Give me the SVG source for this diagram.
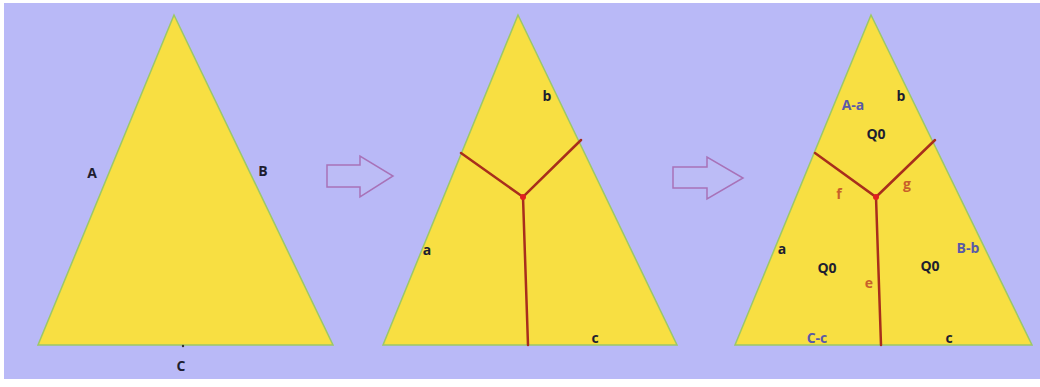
<svg xmlns="http://www.w3.org/2000/svg" width="1040" height="387" viewBox="0 0 1040 387">
<style>
.tri{fill:#f8df42;stroke:#9cc868;stroke-width:1.5}
.red{stroke:#a82e1c;stroke-width:2.5;fill:none;stroke-linecap:round}
.arr{fill:#bcbcf6;stroke:#a872b8;stroke-width:1.5}
text{font-family:"Open Sans","Liberation Sans",sans-serif;font-weight:bold;font-size:14px;text-anchor:middle;dominant-baseline:central}
.k{fill:#1e1e30}
.bl{fill:#5a5aa8}
.or{fill:#c8602a}
</style>
<rect x="0" y="0" width="1040" height="387" fill="#ffffff"/>
<rect x="4" y="3" width="1036" height="376" fill="#b9b9f7"/>
<g id="panel1">
<polygon class="tri" points="174,15 38,345 333,345"/>
<circle cx="183" cy="346" r="1.2" fill="#303030"/>
<text class="k" x="92" y="172">A</text>
<text class="k" x="263" y="170">B</text>
<text class="k" x="181" y="365">C</text>
</g>
<g id="arrow1">
<polygon class="arr" points="327,165 360,165 360,156 393,176 360,197 360,187 327,187"/>
</g>
<g id="panel2">
<polygon class="tri" points="518,15 383,345 677,345"/>
<g class="connectors">
<polyline class="red" points="461,153 523,197 581,140"/>
<polyline class="red" points="523,197 528,345"/>
</g>
<circle cx="523" cy="197" r="3" fill="#e02020"/>
<text class="k" x="547" y="95">b</text>
<text class="k" x="427" y="249">a</text>
<text class="k" x="595" y="337">c</text>
</g>
<g id="arrow2">
<polygon class="arr" points="673,167 707,167 707,157 743,178 707,199 707,188 673,188"/>
</g>
<g id="panel3">
<polygon class="tri" points="871,15 735,345 1032,345"/>
<g class="connectors">
<polyline class="red" points="815,153 876,197 935,140"/>
<polyline class="red" points="876,197 881,345"/>
</g>
<circle cx="876" cy="197" r="3" fill="#e02020"/>
<text class="bl" x="853" y="104">A-a</text>
<text class="k" x="901" y="95">b</text>
<text class="k" x="876" y="133">Q0</text>
<text class="or" x="839" y="193">f</text>
<text class="or" x="907" y="183">g</text>
<text class="k" x="782" y="248">a</text>
<text class="k" x="827" y="267">Q0</text>
<text class="or" x="869" y="282">e</text>
<text class="k" x="930" y="265">Q0</text>
<text class="bl" x="968" y="247">B-b</text>
<text class="bl" x="817" y="337">C-c</text>
<text class="k" x="949" y="337">c</text>
</g>
</svg>
